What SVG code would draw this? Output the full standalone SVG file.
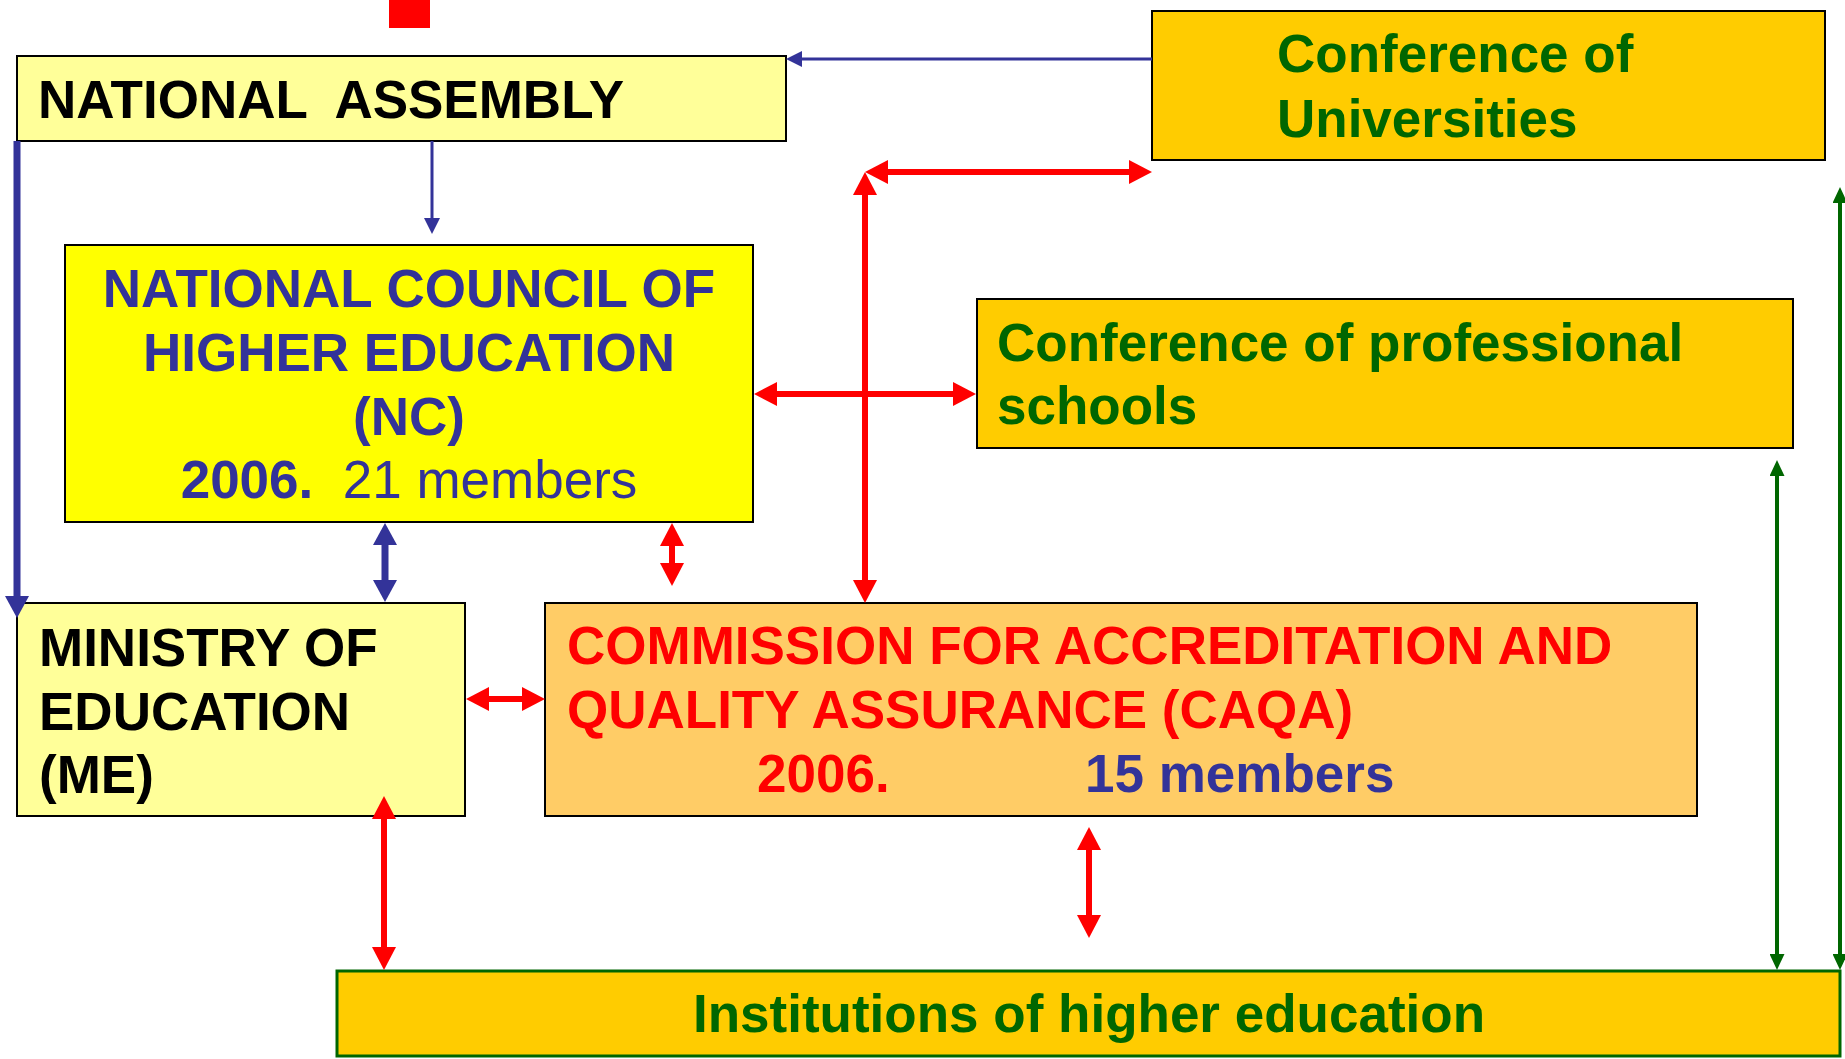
<svg xmlns="http://www.w3.org/2000/svg" width="1845" height="1059" viewBox="0 0 1845 1059">
<style>
  .t{font-family:"Liberation Sans",Arial,sans-serif;font-weight:bold;font-size:53px}
  .box{stroke:#000;stroke-width:2}
  .red{stroke:#FF0000;stroke-width:6;fill:none}
  .blueThin{stroke:#333399;stroke-width:3;fill:none}
  .blueThick{stroke:#333399;stroke-width:7;fill:none}
  .green{stroke:#006600;stroke-width:4;fill:none}
</style>
<defs>
  <marker id="mRed" markerUnits="userSpaceOnUse" viewBox="0 0 23 24" markerWidth="23" markerHeight="24" refX="0" refY="12" orient="auto-start-reverse">
    <path d="M0,0 L23,12 L0,24 z" fill="#FF0000"/>
  </marker>
  <marker id="mBlueS" markerUnits="userSpaceOnUse" viewBox="0 0 16 16" markerWidth="16" markerHeight="16" refX="0" refY="8" orient="auto-start-reverse">
    <path d="M0,0 L16,8 L0,16 z" fill="#333399"/>
  </marker>
  <marker id="mBlueL" markerUnits="userSpaceOnUse" viewBox="0 0 22 24" markerWidth="22" markerHeight="24" refX="0" refY="12" orient="auto-start-reverse">
    <path d="M0,0 L22,12 L0,24 z" fill="#333399"/>
  </marker>
  <marker id="mGreen" markerUnits="userSpaceOnUse" viewBox="0 0 16 15" markerWidth="16" markerHeight="15" refX="0" refY="7.5" orient="auto-start-reverse">
    <path d="M0,0 L16,7.5 L0,15 z" fill="#006600"/>
  </marker>
</defs>
<rect width="1845" height="1059" fill="#FFFFFF"/>

<rect id="red-square" x="389" y="0" width="41" height="28" fill="#FF0000"/>

<g id="national-assembly">
  <rect class="box" x="17" y="56" width="769" height="85" fill="#FFFF99"/>
  <text class="t" x="38" y="118" font-size="52" fill="#000" xml:space="preserve">NATIONAL  ASSEMBLY</text>
</g>

<g id="conference-universities">
  <rect class="box" x="1152" y="11" width="673" height="149" fill="#FFCC00"/>
  <text class="t" fill="#006600"><tspan x="1277" y="72">Conference of</tspan><tspan x="1277" y="137">Universities</tspan></text>
</g>

<g id="national-council">
  <rect class="box" x="65" y="245" width="688" height="277" fill="#FFFF00"/>
  <text class="t" fill="#333399" text-anchor="middle" xml:space="preserve"><tspan x="409" y="307">NATIONAL COUNCIL OF</tspan><tspan x="409" y="371">HIGHER EDUCATION</tspan><tspan x="409" y="435">(NC)</tspan><tspan x="409" y="498">2006.<tspan font-weight="normal">  21 members</tspan></tspan></text>
</g>

<g id="conference-professional-schools">
  <rect class="box" x="977" y="299" width="816" height="149" fill="#FFCC00"/>
  <text class="t" fill="#006600"><tspan x="997" y="361">Conference of professional</tspan><tspan x="997" y="424">schools</tspan></text>
</g>

<g id="ministry-of-education">
  <rect class="box" x="17" y="603" width="448" height="213" fill="#FFFF99"/>
  <text class="t" fill="#000"><tspan x="39" y="666">MINISTRY OF</tspan><tspan x="39" y="730">EDUCATION</tspan><tspan x="39" y="793">(ME)</tspan></text>
</g>

<g id="caqa">
  <rect class="box" x="545" y="603" width="1152" height="213" fill="#FFCC66"/>
  <text class="t" fill="#FF0000"><tspan x="567" y="664">COMMISSION FOR ACCREDITATION AND</tspan><tspan x="567" y="728">QUALITY ASSURANCE (CAQA)</tspan></text>
  <text class="t" x="757" y="792" fill="#FF0000">2006.</text>
  <text class="t" x="1085" y="792" fill="#333399">15 members</text>
</g>

<g id="institutions">
  <rect x="337" y="971" width="1503" height="85" fill="#FFCC00" stroke="#006600" stroke-width="3"/>
  <text class="t" x="1089" y="1032" fill="#006600" text-anchor="middle">Institutions of higher education</text>
</g>

<g id="connectors">
  <path class="blueThin" d="M1152,59 L802,59" marker-end="url(#mBlueS)"/>
  <path class="blueThin" d="M432,141 L432,218" marker-end="url(#mBlueS)"/>
  <path class="blueThick" d="M17,141 L17,596" marker-end="url(#mBlueL)"/>
  <path class="blueThick" d="M385,545 L385,580" marker-start="url(#mBlueL)" marker-end="url(#mBlueL)"/>
  <path class="red" d="M777,394 L953,394" marker-start="url(#mRed)" marker-end="url(#mRed)"/>
  <path class="red" d="M865,195 L865,580" marker-start="url(#mRed)" marker-end="url(#mRed)"/>
  <path class="red" d="M888,172 L1129,172" marker-start="url(#mRed)" marker-end="url(#mRed)"/>
  <path class="red" d="M672,546 L672,563" marker-start="url(#mRed)" marker-end="url(#mRed)"/>
  <path class="red" d="M489,699 L522,699" marker-start="url(#mRed)" marker-end="url(#mRed)"/>
  <path class="red" d="M384,819 L384,947" marker-start="url(#mRed)" marker-end="url(#mRed)"/>
  <path class="red" d="M1089,850 L1089,915" marker-start="url(#mRed)" marker-end="url(#mRed)"/>
  <path class="green" d="M1777,476 L1777,954" marker-start="url(#mGreen)" marker-end="url(#mGreen)"/>
  <path class="green" d="M1840,203 L1840,954" marker-start="url(#mGreen)" marker-end="url(#mGreen)"/>
</g>
</svg>
